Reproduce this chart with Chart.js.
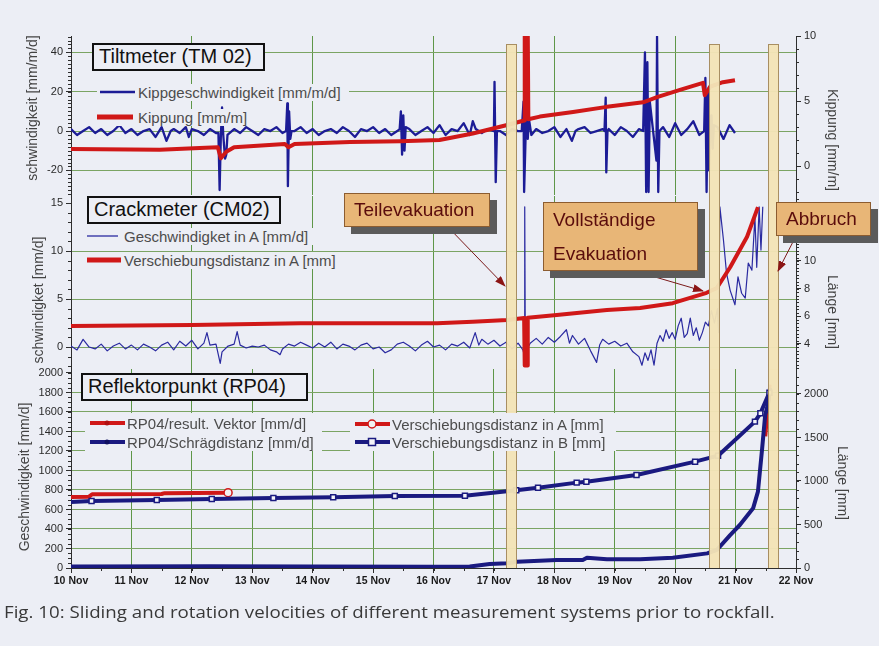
<!DOCTYPE html>
<html><head><meta charset="utf-8">
<script src="https://cdn.jsdelivr.net/npm/chart.js@4.4.1/dist/chart.umd.min.js"></script>
<style>
html,body{margin:0;padding:0;background:#eceef5;}
#wrap{position:relative;width:879px;height:646px;overflow:hidden;background:#eceef5;font-family:"Liberation Sans",Arial,sans-serif;}
canvas{position:absolute;left:0;top:0;}
.title{position:absolute;z-index:10;border:2px solid #111;background:#eceef5;color:#111;font-size:20px;line-height:22px;box-sizing:border-box;padding-left:5px;white-space:nowrap;}
.leg{position:absolute;z-index:10;background:#eceef5;color:#4c4c4c;font-size:15px;white-space:nowrap;line-height:17px;height:17px;box-sizing:border-box;}
.legblk{position:absolute;z-index:10;background:#eceef5;}
.ann{position:absolute;z-index:12;background:#e8b677;border:1px solid #8c5c30;box-shadow:7px 7px 0 #5b5b5b;color:#5a0c0c;font-size:19px;box-sizing:border-box;padding-left:9px;white-space:nowrap;}
.axt{position:absolute;z-index:10;color:#444;font-size:14px;white-space:nowrap;line-height:16px;}
#cap{position:absolute;z-index:10;left:4px;top:601px;font-family:"Open Sans",sans-serif;font-size:17px;line-height:22px;color:#383838;white-space:nowrap;transform-origin:0 0;}
svg#ov{position:absolute;left:0;top:0;z-index:11;pointer-events:none;}
</style></head>
<body><div id="wrap">
<canvas id="c1" width="879" height="646" style="width:879px;height:646px"></canvas>
<canvas id="c2" width="879" height="646" style="width:879px;height:646px"></canvas>
<canvas id="c3" width="879" height="646" style="width:879px;height:646px"></canvas>

<div class="title" style="left:92px;top:43px;width:173px;height:28px;">Tiltmeter (TM 02)</div>
<div class="title" style="left:87px;top:196px;width:194px;height:28px;">Crackmeter (CM02)</div>
<div class="title" style="left:81px;top:373px;width:227px;height:28px;">Reflektorpunkt (RP04)</div>

<div class="leg" style="left:97px;top:84px;width:252px;padding-left:41px;">Kippgeschwindigkeit [mm/m/d]</div>
<div class="leg" style="left:95px;top:109px;width:157px;padding-left:43px;">Kippung [mm/m]</div>
<div class="leg" style="left:85px;top:228px;width:236px;padding-left:39px;">Geschwindigket in A [mm/d]</div>
<div class="leg" style="left:85px;top:252px;width:260px;padding-left:39px;">Verschiebungsdistanz in A [mm]</div>
<div class="legblk" style="left:85px;top:413px;width:237px;height:38px;"></div>
<div class="legblk" style="left:350px;top:413px;width:266px;height:38px;"></div>
<div class="leg" style="left:127px;top:415px;background:none;">RP04/result. Vektor [mm/d]</div>
<div class="leg" style="left:127px;top:434px;background:none;">RP04/Schrägdistanz [mm/d]</div>
<div class="leg" style="left:392px;top:416px;background:none;">Verschiebungsdistanz in A [mm]</div>
<div class="leg" style="left:392px;top:434px;background:none;">Verschiebungsdistanz in B [mm]</div>

<div class="axt" style="left:32px;top:108px;transform:translate(-50%,-50%) rotate(-90deg);">schwindigkeit [mm/m/d]</div>
<div class="axt" style="left:833px;top:140px;transform:translate(-50%,-50%) rotate(90deg);">Kippung [mm/m]</div>
<div class="axt" style="left:38px;top:300px;transform:translate(-50%,-50%) rotate(-90deg);">schwindigket [mm/d]</div>
<div class="axt" style="left:833px;top:312px;transform:translate(-50%,-50%) rotate(90deg);">Länge [mm]</div>
<div class="axt" style="left:24px;top:477px;transform:translate(-50%,-50%) rotate(-90deg);">Geschwindigkeit [mm/d]</div>
<div class="axt" style="left:843px;top:483px;transform:translate(-50%,-50%) rotate(90deg);">Länge [mm]</div>

<div class="ann" style="left:344px;top:193px;width:146px;height:34px;line-height:32px;">Teilevakuation</div>
<div class="ann" style="left:543px;top:202px;width:155px;height:69px;line-height:34px;">Vollständige<br>Evakuation</div>
<div class="ann" style="left:776px;top:202px;width:95px;height:34px;line-height:32px;">Abbruch</div>

<svg id="ov" width="879" height="646" viewBox="0 0 879 646">
  <defs><marker id="ah" markerWidth="11" markerHeight="8" refX="10" refY="4" orient="auto" markerUnits="userSpaceOnUse"><path d="M0,0 L11,4 L0,8 z" fill="#8b1515"/></marker></defs>
  <line x1="100" y1="92" x2="135" y2="92" stroke="#1c1c96" stroke-width="2.5"/>
  <line x1="97" y1="117" x2="133" y2="117" stroke="#d01818" stroke-width="5"/>
  <line x1="87" y1="236" x2="118" y2="236" stroke="#2a2aa0" stroke-width="1.3"/>
  <line x1="87" y1="260" x2="121" y2="260" stroke="#d01818" stroke-width="5"/>
  <line x1="90" y1="423" x2="125" y2="423" stroke="#d01818" stroke-width="4"/>
  <circle cx="107" cy="423" r="2.5" fill="#b01010"/>
  <line x1="90" y1="442" x2="125" y2="442" stroke="#1a1a80" stroke-width="4"/>
  <circle cx="107" cy="442" r="2.5" fill="#101060"/>
  <line x1="355" y1="424" x2="390" y2="424" stroke="#d01818" stroke-width="4"/>
  <circle cx="372" cy="424" r="4" fill="#f2f2f2" stroke="#d01818" stroke-width="1.5"/>
  <line x1="355" y1="442" x2="390" y2="442" stroke="#1a1a80" stroke-width="4"/>
  <rect x="368.5" y="438.5" width="7" height="7" fill="#f4f4f8" stroke="#1a1a80" stroke-width="1.5"/>
  <line x1="447" y1="226" x2="505" y2="286" stroke="#7a1a1a" stroke-width="1" marker-end="url(#ah)"/>
  <line x1="638" y1="272" x2="703" y2="291" stroke="#7a1a1a" stroke-width="1" marker-end="url(#ah)"/>
  <line x1="797" y1="234" x2="778" y2="271" stroke="#7a1a1a" stroke-width="1" marker-end="url(#ah)"/>
</svg>

<div id="cap">Fig. 10: Sliding and rotation velocities of different measurement systems prior to rockfall.</div>
</div>
<script>
// ---- data (x = days after 10 Nov 00:00) ----
const dayLabels = ['10 Nov','11 Nov','12 Nov','13 Nov','14 Nov','15 Nov','16 Nov','17 Nov','18 Nov','19 Nov','20 Nov','21 Nov','22 Nov'];
const eventTimes = [7.28, 10.65, 11.62];

// tick values per axis
const tiltRateTicks = [-20, 0, 20, 40];
const tiltTicks = [0, 5, 10];
const crackRateTicks = [0, 5, 10, 15];
const crackTicks = [4, 6, 8, 10, 12, 14];
const rpRateTicks = [0, 200, 400, 600, 800, 1000, 1200, 1400, 1600, 1800, 2000];
const rpDistTicks = [0, 500, 1000, 1500, 2000];

// Tiltmeter TM02: Kippgeschwindigkeit [mm/m/d]
const tiltRate = [
[0.0,1],[0.1,-2],[0.2,0],[0.3,2],[0.4,-1],[0.5,1],[0.6,-2],[0.7,0],[0.8,3],[0.9,-1],[1.0,1],[1.1,-2],[1.2,0],[1.3,1],[1.4,-3],[1.5,2],[1.58,-5],[1.65,0],[1.7,1],[1.8,-1],[1.9,2],[1.95,-3],[2.0,1],[2.1,0],[2.2,-2],[2.3,1],[2.4,-1],
[2.44,-1],[2.46,-30],[2.48,-3],[2.50,12],[2.52,-2],[2.55,-14],[2.57,-12],[2.59,-2],
[2.7,1],[2.8,-1],[2.9,2],[3.0,0],[3.1,-2],[3.2,1],[3.3,0],[3.4,2],[3.5,-1],
[3.56,0],[3.58,14],[3.59,-28],[3.61,10],[3.63,-4],[3.65,0],
[3.7,0],[3.8,2],[3.9,-1],[4.0,1],[4.1,-2],[4.2,0],[4.3,1],[4.4,-1],[4.5,2],[4.6,0],[4.7,-3],[4.8,1],[4.9,0],[5.0,2],[5.1,-1],[5.2,1],[5.3,-2],[5.4,0],
[5.44,1],[5.46,10],[5.48,-12],[5.50,8],[5.52,-10],[5.54,2],
[5.6,1],[5.7,-2],[5.8,0],[5.9,2],[6.0,-1],[6.1,3],[6.2,-2],[6.3,1],[6.4,0],[6.5,4],[6.6,-2],[6.65,5],[6.7,1],[6.8,-1],[6.9,1],
[7.00,0],[7.01,25],[7.03,-26],[7.05,0],
[7.1,0],[7.2,-2],[7.3,1],[7.4,0],
[7.46,0],[7.49,15],[7.50,-31],[7.52,-8],[7.54,15],[7.56,-4],[7.58,6],[7.62,-2],
[7.7,1],[7.8,-1],[7.9,0],[8.0,2],[8.1,-3],[8.2,1],[8.29,-5],[8.35,0],[8.4,1],[8.5,2],[8.6,-1],[8.7,0],[8.8,1],
[8.83,0],[8.85,17],[8.86,-21],[8.88,0],
[8.9,1],[9.0,-2],[9.1,2],[9.2,0],[9.3,-3],[9.4,1],
[9.47,0],[9.50,40],[9.52,-31],[9.54,35],[9.56,-31],[9.58,15],[9.69,-15],[9.70,48],[9.72,-31],[9.74,0],
[9.8,2],[9.9,-3],[10.0,4],[10.1,-2],[10.2,1],[10.3,5],[10.4,-2],
[10.48,0],[10.50,27],[10.52,-31],[10.54,20],[10.56,-20],[10.58,5],[10.60,8],[10.62,-9],[10.64,3],
[10.7,2],[10.8,-4],[10.9,3],[10.99,-1]
];
// Kippung [mm/m]
const tilt = [[0,1.3],[1.47,1.25],[2.13,1.38],[2.43,1.45],[2.48,0.6],[2.57,1.1],[2.7,1.45],[3.54,1.7],[3.6,1.45],[3.7,1.7],[4.62,1.85],[5.45,1.9],[6.1,2.0],[6.65,2.5],[7.22,3.15],[7.5,3.5],[7.51,10.5],[7.56,10.5],[7.57,3.6],[7.76,3.8],[8.31,4.15],[8.87,4.55],[9.47,4.9],[9.7,5.3],[10.08,5.85],[10.46,6.4],[10.49,5.45],[10.58,6.1],[10.79,6.45],[10.99,6.6]];

// Crackmeter CM02: Geschwindigket in A [mm/d]
const crackRate = [
[0.0,0.1],[0.1,-0.3],[0.2,0.8],[0.3,0.0],[0.4,-0.2],[0.5,0.3],[0.6,-0.4],[0.7,0.1],[0.8,0.4],[0.9,-0.2],[1.0,0.2],[1.1,-0.3],[1.2,0.3],[1.3,0.0],[1.4,-0.4],[1.5,0.2],[1.6,0.5],[1.7,-0.3],[1.8,0.6],[1.9,0.1],[2.0,0.7],[2.1,-0.2],[2.2,0.4],[2.25,1.5],[2.3,0.2],[2.4,0.3],[2.47,-1.7],[2.5,-0.5],[2.6,0.1],[2.7,0.3],[2.75,1.6],[2.8,0.2],[2.9,-0.1],[3.0,0.1],[3.1,0.0],[3.2,0.2],[3.3,-0.3],[3.4,-0.5],[3.46,-0.8],[3.5,-0.2],[3.6,0.3],[3.7,0.1],[3.8,0.5],[3.9,0.2],[4.0,-0.1],[4.1,0.4],[4.2,0.0],[4.3,0.5],[4.4,-0.2],[4.5,0.3],[4.6,0.1],[4.7,-0.3],[4.8,0.2],[4.9,0.4],[5.0,-0.2],[5.1,0.0],[5.2,-0.6],[5.3,-0.3],[5.4,0.3],[5.5,0.5],[5.6,0.1],[5.7,-0.4],[5.8,0.2],[5.9,0.6],[6.0,0.0],[6.1,0.2],[6.2,-0.3],[6.3,0.3],[6.4,0.1],[6.5,0.5],[6.6,-0.1],[6.69,1.5],[6.75,0.2],[6.8,0.8],[6.9,0.3],[7.0,0.7],[7.1,0.1],[7.2,0.5],[7.3,-0.2],[7.4,0.4],[7.48,-0.3],[7.5,-0.8],[7.51,14.6],[7.52,-0.6],[7.6,0.4],[7.7,0.9],[7.8,0.3],[7.9,1.0],[8.0,0.5],[8.1,1.1],[8.2,1.8],[8.25,0.4],[8.3,1.2],[8.4,0.3],[8.5,0.9],[8.6,-0.4],[8.7,-1.6],[8.75,0.2],[8.8,0.8],[8.9,0.3],[9.0,0.6],[9.1,0.1],[9.2,0.4],[9.3,-0.5],[9.4,-1.0],[9.45,-1.9],[9.5,-0.6],[9.55,-1.4],[9.6,-0.3],[9.65,-1.9],[9.7,0.4],[9.75,1.2],[9.8,0.6],[9.85,1.8],[9.9,0.9],[9.95,1.5],[10.0,0.8],[10.05,2.2],[10.1,3.0],[10.15,1.0],[10.2,1.4],[10.25,3.0],[10.3,1.2],[10.35,2.0],[10.4,0.7],[10.45,1.5],[10.5,2.6],[10.55,2.2],[10.6,3.8],[10.65,2.5],[10.7,4.0],[10.72,1.5],[10.74,14.6],[10.8,11.1],[10.85,7.7],[10.91,5.9],[10.99,4.4],[11.04,7.3],[11.1,5.6],[11.16,5.1],[11.21,8.75],[11.27,8.0],[11.32,13.5],[11.35,8.3],[11.39,14.6],[11.42,10.1],[11.45,14.6]
];
// Verschiebungsdistanz in A [mm]
const crack = [[0,5.3],[2.0,5.37],[3.8,5.5],[6.06,5.5],[6.65,5.6],[7.22,5.74],[7.5,5.88],[7.51,2.45],[7.55,2.45],[7.56,5.9],[8.04,6.1],[8.87,6.45],[9.42,6.6],[9.96,6.95],[10.52,7.7],[10.69,8.05],[10.91,9.55],[11.19,11.75],[11.37,13.9]];

// Reflektorpunkt RP04
const rpVector = [[11.5,1350],[11.57,1880]];                 // RP04/result. Vektor [mm/d]
const rpSlant = [[0,15],[2.3,18],[4.0,15],[6.0,12],[6.6,15],[6.93,41],[7.22,48],[7.38,65],[8.04,82],[8.47,82],[8.54,106],[8.87,89],[9.42,89],[9.96,106],[10.53,150],[10.69,185],[10.91,338],[11.07,441],[11.29,612],[11.37,783],[11.44,1228],[11.49,1569],[11.54,1689],[11.57,1846]]; // RP04/Schrägdistanz [mm/d]
const rpDistA = [[0,815],[0.3,820],[0.35,848],[1.5,850],[1.55,860],[2.6,865]];   // Verschiebungsdistanz in A [mm]
const rpDistB = [[0,759],[0.34,770],[1.42,782],[2.33,793],[3.35,805],[4.34,812],[5.36,828],[6.52,831],[7.37,893],[7.73,923],[8.37,981],[8.53,992],[9.36,1069],[10.33,1222],[10.71,1291],[11.32,1682],[11.41,1778],[11.56,2015]]; // Verschiebungsdistanz in B [mm]

// ---- styling ----
const FAM = "'Liberation Sans', Arial, sans-serif";
const GRID_H = '#7ba463', GRID_V = '#5e9648', AXIS = '#2e2e2e';
const NAVY = '#1c1c96', NAVY2 = '#1a1a80', RED = '#d01818';
const CLEAR = 'rgba(0,0,0,0)';

const eventBars = {
  id: 'eventBars',
  afterDatasetsDraw(chart, args, o) {
    const {ctx, chartArea} = chart, xs = chart.scales.x;
    const top = o.top != null ? o.top : chartArea.top;
    const bottom = chartArea.bottom + (o.extend || 0);
    ctx.save();
    for (const t of eventTimes) {
      const px = Math.round(xs.getPixelForValue(t));
      ctx.fillStyle = 'rgba(242,227,182,0.96)';
      ctx.fillRect(px - 4, top, 9, bottom - top);
      ctx.strokeStyle = '#a88e62'; ctx.lineWidth = 1;
      ctx.beginPath();
      ctx.moveTo(px - 4.5, top); ctx.lineTo(px - 4.5, bottom);
      ctx.moveTo(px + 5.5, top); ctx.lineTo(px + 5.5, bottom);
      if (o.capTop) { ctx.moveTo(px - 4.5, top + 0.5); ctx.lineTo(px + 5.5, top + 0.5); }
      ctx.stroke();
    }
    ctx.restore();
  }
};
const minorTicks = {
  id: 'minorTicks',
  afterDraw(chart, args, o) {
    const ctx = chart.ctx;
    ctx.save(); ctx.strokeStyle = AXIS; ctx.lineWidth = 1; ctx.beginPath();
    for (const [id, step, len] of (o.list || [])) {
      const s = chart.scales[id];
      const i0 = Math.ceil(s.min / step - 1e-9), i1 = Math.floor(s.max / step + 1e-9);
      for (let i = i0; i <= i1; i++) {
        const p = Math.round(s.getPixelForValue(i * step)) + 0.5;
        if (s.isHorizontal()) { ctx.moveTo(p, s.top); ctx.lineTo(p, s.top + len); }
        else if (s.position === 'left') { ctx.moveTo(s.right - len, p); ctx.lineTo(s.right, p); }
        else { ctx.moveTo(s.left, p); ctx.lineTo(s.left + len, p); }
      }
    }
    ctx.stroke(); ctx.restore();
  }
};

function xAxis(step, labels) {
  return {
    type: 'linear', min: 0, max: 12,
    ticks: labels ? {stepSize: step, autoSkip: false, maxRotation: 0, padding: 2, color: '#1a1a1a',
                     font: {family: FAM, size: 10.5, weight: 'bold'}, callback: v => dayLabels[Math.round(v)]}
                  : {display: false, stepSize: step},
    grid: {color: c => (c.tick && (c.tick.value <= 0 || c.tick.value >= 12)) ? CLEAR : GRID_V,
           drawTicks: labels, tickLength: 5, tickColor: AXIS},
    border: {display: labels, color: AXIS},
    afterFit(s) { s.height = labels ? 20 : 0; }
  };
}
function yAxis(pos, min, max, tickVals, hide, cb) {
  return {
    type: 'linear', position: pos, min: min, max: max,
    afterBuildTicks(s) { s.ticks = tickVals.map(v => ({value: v})); },
    ticks: {padding: 3, color: '#2a2a2a', font: {family: FAM, size: 11}, callback: cb || (v => v)},
    grid: pos === 'left'
      ? {color: c => (c.tick && hide.indexOf(c.tick.value) >= 0) ? CLEAR : GRID_H, tickLength: 5, tickColor: AXIS}
      : {drawOnChartArea: false, tickLength: 5, tickColor: AXIS},
    border: {color: AXIS},
    afterFit(s) { s.width = pos === 'left' ? 71 : 83; }
  };
}
function line(label, data, axis, color, width, extra) {
  return Object.assign({label, data, yAxisID: axis, borderColor: color, backgroundColor: color,
    borderWidth: width, pointRadius: 0, tension: 0, fill: false, borderJoinStyle: 'round'}, extra || {});
}
function make(id, datasets, scales, pad, bars, minor) {
  return new Chart(document.getElementById(id), {
    type: 'line',
    data: {datasets},
    options: {
      responsive: false, animation: false, devicePixelRatio: 1,
      layout: {padding: {top: pad[0], bottom: pad[1], left: 0, right: 0}},
      scales,
      plugins: {legend: {display: false}, tooltip: {enabled: false}, eventBars: bars, minorTicks: {list: minor}},
      events: []
    },
    plugins: [eventBars, minorTicks]
  });
}

// Panel 1: Tiltmeter
make('c1', [
  line('Kippung [mm/m]', tilt, 'y2', RED, 4),
  line('Kippgeschwindigkeit [mm/m/d]', tiltRate, 'y', NAVY, 2.3)
], {
  x: xAxis(2, false),
  y: yAxis('left', -32.5, 48.3, tiltRateTicks, []),
  y2: yAxis('right', -2.23, 10, tiltTicks, [])
}, [36, 451], {top: 44, capTop: true, extend: 1}, [['y', 2, 3], ['y2', 1, 3]]);

// Panel 2: Crackmeter
make('c2', [
  line('Verschiebungsdistanz in A [mm]', crack, 'y2', RED, 4),
  line('Geschwindigket in A [mm/d]', crackRate, 'y', '#2a2aa0', 1.2)
], {
  x: xAxis(2, false),
  y: yAxis('left', -2.29, 15.73, crackRateTicks, [15]),
  y2: yAxis('right', 2.19, 14.7, crackTicks, [], v => v > 11 ? '' : v)
}, [196, 277], {extend: 1}, [['y', 1, 3], ['y2', 0.25, 3]]);

// Panel 3: Reflektorpunkt
make('c3', [
  line('Verschiebungsdistanz in B [mm]', rpDistB, 'y2', NAVY2, 4, {
    pointStyle: 'rect', pointRadius: c => c.dataIndex === 0 ? 0 : 3.5,
    pointBackgroundColor: '#f4f4f8', pointBorderColor: NAVY2, pointBorderWidth: 1.5}),
  line('RP04/Schrägdistanz [mm/d]', rpSlant, 'y', NAVY2, 4),
  line('Verschiebungsdistanz in A [mm]', rpDistA, 'y2', RED, 4, {
    pointStyle: 'circle', pointRadius: c => c.dataIndex === rpDistA.length - 1 ? 4 : 0,
    pointBackgroundColor: '#f2f2f2', pointBorderColor: RED, pointBorderWidth: 1.5}),
  line('RP04/result. Vektor [mm/d]', rpVector, 'y', RED, 3)
], {
  x: xAxis(1, true),
  y: yAxis('left', 0, 2041, rpRateTicks, [0, 2000]),
  y2: yAxis('right', 0, 2287, rpDistTicks, [])
}, [369, 58], {}, [['y', 50, 3], ['y2', 100, 3], ['x', 0.5, 3]]);

// caption width fit
const cap = document.getElementById('cap');
function fitCap() { cap.style.transform = 'none'; const w = cap.offsetWidth; if (w) cap.style.transform = 'scaleX(' + (771 / w) + ')'; }
fitCap();
if (document.fonts && document.fonts.ready) document.fonts.ready.then(fitCap);
</script>
</body></html>
